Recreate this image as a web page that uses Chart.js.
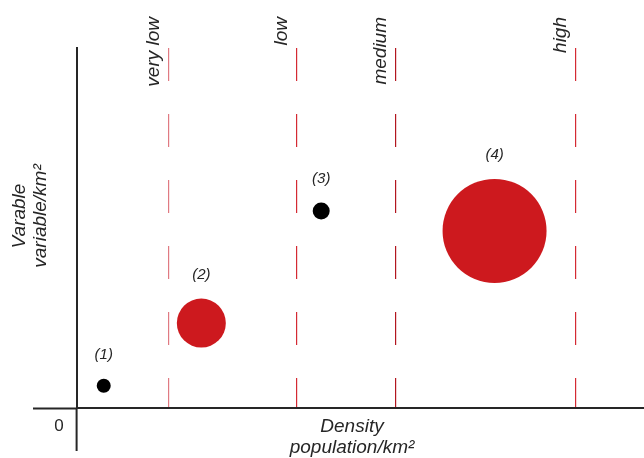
<!DOCTYPE html>
<html>
<head>
<meta charset="utf-8">
<script src="https://cdn.jsdelivr.net/npm/chart.js@4/dist/chart.umd.min.js"></script>
<style>
  html, body { margin: 0; padding: 0; background: #fff; }
  #wrap { width: 644px; height: 458px; }
</style>
</head>
<body>
<div id="wrap"><canvas id="chartCanvas"></canvas></div>
<script>
// data
const pointLabels = ["(1)", "(2)", "(3)", "(4)"];
const densityValues = [0.66, 3.07, 6.03, 10.31];
const variableValues = [0.62, 2.36, 5.47, 4.92];
const bubbleSizes = [7, 24.5, 8.5, 52];

const densityClasses = ["very low", "low", "medium", "high"];
const classThresholds = [2.27, 5.43, 7.86, 12.31];

const xTitle = ["Density", "population/km\u00B2"];
const yTitle = ["Varable", "variable/km\u00B2"];

const RED = "#cd191e";
const bubbleColors = [ "#000", RED, "#000", RED ];
const classLineColors = ["#e07a82", "#d42a33", "#b2161f", "#d42a33"];
const INK = "#262626";
const FONT = '"Liberation Sans", Arial, sans-serif';

const labelsPlugin = {
  id: "sketchLabels",
  afterDatasetsDraw(chart) {
    const ctx = chart.ctx;
    const xs = chart.scales.x, ys = chart.scales.y;
    ctx.save();
    ctx.fillStyle = INK;

    // point labels above each bubble
    ctx.font = "italic 15px " + FONT;
    ctx.textAlign = "center";
    ctx.textBaseline = "middle";
    chart.getDatasetMeta(0).data.forEach((el, i) => {
      ctx.fillText(pointLabels[i], el.x, el.y - el.options.radius - 24);
    });

    // class names next to the dashed lines
    ctx.font = "italic 19px " + FONT;
    densityClasses.forEach((name, i) => {
      const px = xs.getPixelForValue(classThresholds[i]) - 15;
      ctx.save();
      ctx.translate(px, 17);
      ctx.rotate(-Math.PI / 2);
      ctx.textAlign = "right";
      ctx.textBaseline = "middle";
      ctx.fillText(name, 0, 0);
      ctx.restore();
    });

    // origin
    ctx.font = "17px " + FONT;
    ctx.textAlign = "center";
    ctx.fillText("0", xs.getPixelForValue(0) - 18, ys.getPixelForValue(0) + 18);

    // x title
    ctx.font = "italic 19px " + FONT;
    const cx = 352;
    ctx.fillText(xTitle[0], cx, 427);
    ctx.fillText(xTitle[1], cx, 448);

    // y title
    ctx.save();
    ctx.translate(0, 216);
    ctx.rotate(-Math.PI / 2);
    ctx.fillText(yTitle[0], 0, 20);
    ctx.fillText(yTitle[1], 0, 41);
    ctx.restore();

    ctx.restore();
  }
};

new Chart(document.getElementById("chartCanvas"), {
  type: "bubble",
  data: {
    datasets: [{
      data: densityValues.map((d, i) => ({ x: d, y: variableValues[i], r: bubbleSizes[i] })),
      backgroundColor: bubbleColors,
      borderWidth: 0,
      hoverRadius: 0,
      clip: false
    }]
  },
  options: {
    responsive: true,
    maintainAspectRatio: false,
    animation: false,
    layout: { autoPadding: false, padding: { left: 33, top: 48, right: 0, bottom: 7 } },
    plugins: { legend: { display: false }, tooltip: { enabled: false } },
    scales: {
      x: {
        type: "linear",
        min: 0,
        max: 14,
        afterBuildTicks: (s) => { s.ticks = [0].concat(classThresholds).map(v => ({ value: v })); },
        ticks: { display: false },
        grid: {
          color: (c) => c.index === 0 ? "rgba(0,0,0,0)" : classLineColors[c.index - 1],
          lineWidth: 1.2,
          tickLength: 43,
          tickWidth: 2,
          tickColor: (c) => c.index === 0 ? INK : "rgba(0,0,0,0)"
        },
        border: { display: true, color: INK, width: 2, dash: [33, 33] }
      },
      y: {
        type: "linear",
        min: 0,
        max: 10,
        afterBuildTicks: (s) => { s.ticks = [{ value: 0 }]; },
        ticks: { display: false },
        grid: {
          color: "rgba(0,0,0,0)",
          tickLength: 44,
          tickWidth: 2,
          tickColor: INK
        },
        border: { display: true, color: INK, width: 2 }
      }
    }
  },
  plugins: [labelsPlugin]
});
</script>
</body>
</html>
